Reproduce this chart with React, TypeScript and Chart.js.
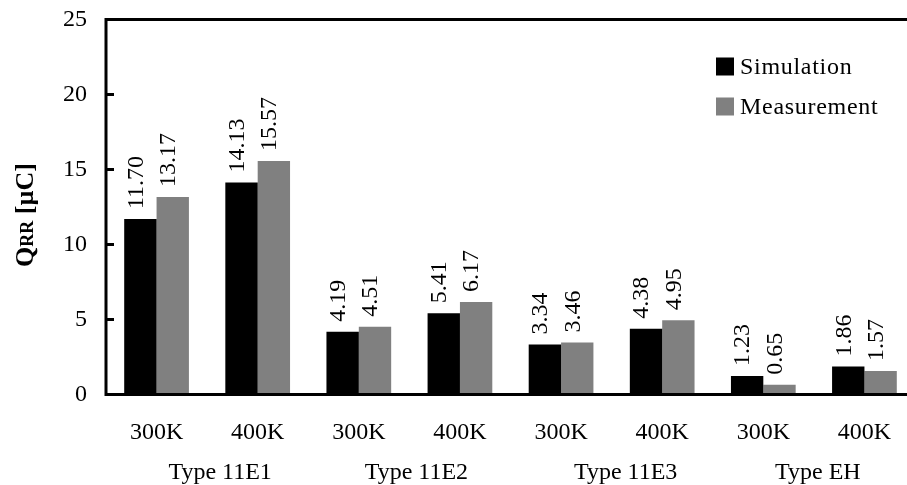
import React, { useEffect, useRef } from "react";
import { Chart, registerables } from "chart.js";

Chart.register(...registerables);

const categories = ["300K", "400K", "300K", "400K", "300K", "400K", "300K", "400K"];
const groups = ["Type 11E1", "Type 11E2", "Type 11E3", "Type EH"];
const simulation = [11.7, 14.13, 4.19, 5.41, 3.34, 4.38, 1.23, 1.86];
const measurement = [13.17, 15.57, 4.51, 6.17, 3.46, 4.95, 0.65, 1.57];
const seriesNames = ["Simulation", "Measurement"];
const seriesColors = ["#000000", "#808080"];
const yMin = 0;
const yMax = 25;
const yStep = 5;
const groupOffsets = [13, 7, 14, 4];

const FONT = "'Liberation Serif', 'Times New Roman', serif";

const overlay = {
  id: "overlay",
  afterDraw(chart: any) {
    const ctx = chart.ctx as CanvasRenderingContext2D;
    const { left, right, top, bottom } = chart.chartArea;
    const yScale = chart.scales.y;
    const xScale = chart.scales.x;
    ctx.save();
    // axes & frame
    ctx.strokeStyle = "#000";
    ctx.lineWidth = 3;
    ctx.beginPath();
    ctx.moveTo(left, top);
    ctx.lineTo(chart.width, top);
    ctx.moveTo(left, top - 1.5);
    ctx.lineTo(left, bottom + 1.5);
    ctx.moveTo(left, bottom);
    ctx.lineTo(chart.width, bottom);
    ctx.stroke();
    // inward ticks
    ctx.beginPath();
    for (let v = yMin + yStep; v < yMax; v += yStep) {
      const y = yScale.getPixelForValue(v);
      ctx.moveTo(left, y);
      ctx.lineTo(left + 8, y);
    }
    ctx.stroke();

    // data labels
    ctx.fillStyle = "#000";
    ctx.font = `24px ${FONT}`;
    ctx.textAlign = "left";
    ctx.textBaseline = "middle";
    chart.data.datasets.forEach((ds: any, di: number) => {
      const meta = chart.getDatasetMeta(di);
      meta.data.forEach((el: any, i: number) => {
        ctx.save();
        ctx.translate(el.x - 4, el.y - 10);
        ctx.rotate(-Math.PI / 2);
        ctx.fillText(Number(ds.data[i]).toFixed(2), 0, 0);
        ctx.restore();
      });
    });

    // group labels
    ctx.textAlign = "center";
    groups.forEach((g, gi) => {
      const x1 = xScale.getPixelForValue(gi * 2);
      const x2 = xScale.getPixelForValue(gi * 2 + 1);
      ctx.fillText(g, (x1 + x2) / 2 + groupOffsets[gi], bottom + 78);
    });

    // legend
    ctx.textAlign = "left";
    (ctx as any).letterSpacing = "0.7px";
    seriesNames.forEach((name, i) => {
      const sy = top + 38 + i * 40;
      ctx.fillStyle = seriesColors[i];
      ctx.fillRect(right - 199, sy, 18, 18);
      ctx.fillStyle = "#000";
      ctx.fillText(name, right - 175, sy + 10);
    });
    (ctx as any).letterSpacing = "0px";

    // y title
    ctx.save();
    ctx.translate(33, (top + bottom) / 2 + 8);
    ctx.rotate(-Math.PI / 2);
    ctx.textBaseline = "alphabetic";
    const big = `bold 26px ${FONT}`;
    const small = `bold 18px ${FONT}`;
    ctx.font = big;
    const wQ = ctx.measureText("Q").width;
    const wRest = ctx.measureText(" [\u00b5C]").width;
    ctx.font = small;
    const wRR = ctx.measureText("RR").width;
    let x = -(wQ + wRR + wRest) / 2;
    ctx.font = big;
    ctx.fillText("Q", x, 0);
    x += wQ;
    ctx.font = small;
    ctx.fillText("RR", x, 0);
    x += wRR;
    ctx.font = big;
    ctx.fillText(" [\u00b5C]", x, 0);
    ctx.restore();

    ctx.restore();
  },
};

export default function App() {
  const ref = useRef<HTMLCanvasElement | null>(null);
  useEffect(() => {
    if (!ref.current) return;
    const chart = new Chart(ref.current, {
      type: "bar",
      data: {
        labels: categories,
        datasets: [
          {
            label: seriesNames[0],
            data: simulation,
            backgroundColor: seriesColors[0],
            borderWidth: 0,
            categoryPercentage: 0.64,
            barPercentage: 1,
          },
          {
            label: seriesNames[1],
            data: measurement,
            backgroundColor: seriesColors[1],
            borderWidth: 0,
            categoryPercentage: 0.64,
            barPercentage: 1,
          },
        ],
      },
      options: {
        responsive: false,
        animation: false,
        devicePixelRatio: 1,
        layout: { padding: { top: 19.5, left: 0, right: 0, bottom: 0 } },
        plugins: {
          legend: { display: false },
          tooltip: { enabled: false },
        },
        scales: {
          x: {
            grid: { display: false, drawTicks: false, tickLength: 0 },
            border: { display: false },
            ticks: {
              color: "#000",
              font: { family: FONT, size: 24 },
              padding: 24,
              maxRotation: 0,
              autoSkip: false,
            },
            afterFit: (s: any) => {
              s.height = 90.5;
              s.paddingLeft = 0;
              s.paddingRight = 0;
            },
          },
          y: {
            min: yMin,
            max: yMax,
            grid: { display: false, drawTicks: false, tickLength: 0 },
            border: { display: false },
            ticks: {
              stepSize: yStep,
              color: "#000",
              font: { family: FONT, size: 24 },
              padding: 19,
            },
            afterFit: (s: any) => {
              s.width = 106;
              s.paddingTop = 0;
              s.paddingBottom = 0;
            },
          },
        },
      },
      plugins: [overlay],
    });
    return () => chart.destroy();
  }, []);
  return (
    <div
      style={{
        position: "fixed",
        left: 0,
        top: 0,
        width: 907,
        height: 485,
        overflow: "hidden",
        background: "#fff",
      }}
    >
      <canvas
        ref={ref}
        width={915}
        height={485}
        style={{ display: "block", width: 915, height: 485 }}
      />
    </div>
  );
}
